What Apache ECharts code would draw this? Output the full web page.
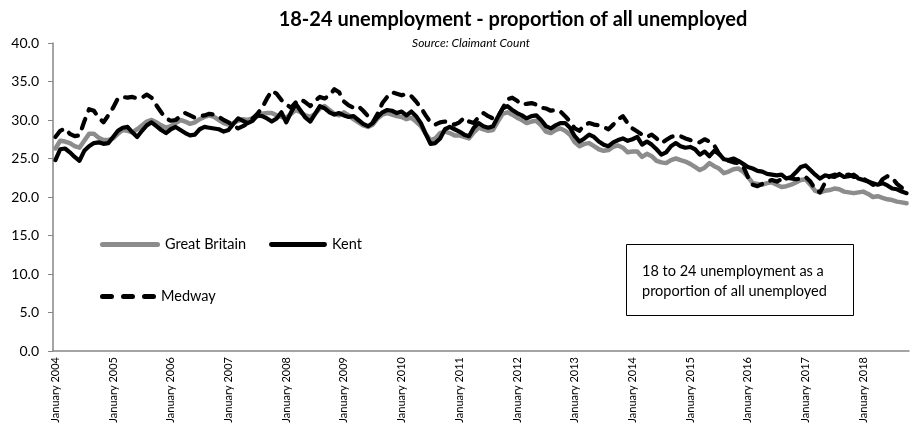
<!DOCTYPE html>
<html><head><meta charset="utf-8">
<script src="https://cdn.jsdelivr.net/npm/echarts@6/dist/echarts.min.js"></script>
<style>html,body{margin:0;padding:0;background:#fff}#c{width:910px;height:433px}</style>
</head><body><div id="c"></div>
<script>
// Categories: monthly, January 2004 – October 2018
const monthNames = ['January','February','March','April','May','June','July','August','September','October','November','December'];
const startYear = 2004;
const monthCount = 178;
const categories = [];
for (let i = 0; i < monthCount; i++) {
  categories.push(monthNames[i % 12] + ' ' + (startYear + Math.floor(i / 12)));
}
const yTicks = [0, 5, 10, 15, 20, 25, 30, 35, 40];

const greatBritain = [
  26.3, 27.3, 27.2, 27.0, 26.6, 26.4, 27.3, 28.2, 28.2, 27.7, 27.4, 27.4,
  27.6, 28.2, 28.7, 28.6, 28.4, 28.8, 29.3, 29.8, 30.0, 29.7, 29.3, 29.0,
  29.2, 29.6, 30.0, 29.8, 29.5, 29.7, 30.1, 30.4, 30.6, 30.4, 30.0, 29.6,
  29.4, 29.6, 29.9, 30.1, 30.0, 30.2, 30.5, 30.8, 30.9, 30.9, 30.6, 30.4,
  30.3, 30.8, 31.3, 31.0, 30.6, 30.4, 30.8, 31.5, 31.8, 31.3, 30.8, 30.6,
  31.0, 30.6, 30.1, 29.7, 29.3, 29.1, 29.4, 30.2, 30.7, 30.9, 30.7, 30.5,
  30.4, 30.1, 30.3, 29.8, 29.2, 28.2, 27.4, 27.6, 28.3, 28.5, 28.3, 28.0,
  28.0, 27.8, 27.6, 28.4, 29.0, 28.8, 28.6, 28.7, 29.8, 30.8, 31.0, 30.7,
  30.3, 30.0, 29.6, 29.8, 29.9, 29.3, 28.5, 28.3, 28.7, 28.9, 28.6, 28.1,
  27.1, 26.6, 26.9, 27.0, 26.6, 26.2, 26.0, 26.1, 26.5, 26.7, 26.4, 25.8,
  25.9, 25.9, 25.2, 25.6, 25.3, 24.7, 24.5, 24.4, 24.8, 25.0, 24.8, 24.6,
  24.3, 23.9, 23.5, 23.8, 24.4, 24.0, 23.7, 23.1, 23.3, 23.6, 23.7, 23.3,
  22.6, 21.8, 21.7, 21.6, 21.8, 21.9, 21.6, 21.3, 21.4, 21.6, 21.9, 22.2,
  22.3, 21.6, 20.8, 20.6, 20.8, 20.9, 21.1, 21.0, 20.7, 20.6, 20.5, 20.6,
  20.7, 20.4, 20.0, 20.1, 19.9, 19.7, 19.6, 19.4, 19.3, 19.2
];
const kent = [
  24.8, 26.2, 26.3, 25.8, 25.2, 24.7, 26.0, 26.6, 27.0, 27.1, 26.9, 27.0,
  27.8, 28.6, 29.0, 29.1, 28.4, 27.8, 28.6, 29.3, 29.7, 29.2, 28.7, 28.3,
  28.8, 29.1, 28.7, 28.3, 28.0, 28.1, 28.8, 29.1, 29.0, 28.9, 28.8, 28.5,
  28.7, 29.5, 30.2, 29.9, 29.6, 29.9, 30.6, 30.5, 30.2, 29.8, 30.2, 31.0,
  29.7, 31.0, 32.1, 31.2, 30.3, 29.8, 30.8, 31.8, 31.5, 31.0, 30.7, 30.9,
  30.6, 30.4, 30.5, 30.0, 29.5, 29.2, 29.6, 30.4, 31.0, 31.3, 31.2, 30.9,
  31.1, 30.6, 31.1, 30.5, 29.6, 28.2, 26.9, 27.0, 27.6, 28.8, 29.1, 28.8,
  28.5, 28.1, 27.9, 29.0, 29.6, 29.2, 29.0, 29.2, 30.4, 31.5, 31.8, 31.3,
  30.9, 30.6, 30.2, 30.5, 30.6, 30.0, 29.2, 28.9, 29.3, 29.6, 29.6, 29.0,
  27.9, 27.2, 27.6, 28.1, 27.8, 27.2, 26.8, 26.6, 27.1, 27.4, 27.6, 27.3,
  27.5, 27.8, 26.8, 27.2, 26.8, 26.2, 25.5, 25.8, 26.6, 27.0, 26.6, 26.4,
  26.5, 26.2, 25.5, 25.9, 25.3, 26.0, 25.6, 24.9, 24.8, 25.0, 24.7, 24.3,
  23.9, 23.7, 23.4, 23.3, 23.0, 22.9, 22.8, 22.9, 22.4, 22.6, 23.2, 23.9,
  24.1, 23.5, 22.9, 22.4, 22.8, 22.7, 22.6, 23.0, 22.6, 22.7, 22.9, 22.4,
  22.2, 22.0, 21.8, 21.6, 21.8, 21.5, 21.1, 21.0, 20.7, 20.5
];
const medway = [
  27.8, 28.6, 28.9, 28.2, 27.9, 28.0, 29.8, 31.4, 31.2, 30.3, 29.7, 30.6,
  31.6, 32.8, 33.0, 32.9, 33.0, 32.8, 32.9, 33.3, 32.9, 31.9, 31.0, 30.2,
  29.9, 30.0, 30.5, 30.9, 30.6, 30.3, 30.5, 30.6, 30.8, 30.7, 30.4, 30.0,
  29.7, 29.3, 28.9, 29.2, 29.6, 30.2, 30.8, 31.6, 32.8, 33.8, 33.4, 32.6,
  32.0, 31.6, 32.3, 32.7, 32.3, 31.8, 32.5, 33.0, 32.8, 33.2, 34.0, 33.6,
  32.4, 31.9, 31.6, 31.8, 31.2, 30.5, 29.7, 30.8, 32.2, 33.0, 33.6, 33.4,
  33.2, 33.4, 33.1, 32.4, 31.6, 30.6, 29.7, 29.4, 29.7, 29.8, 29.6, 29.4,
  29.7, 30.3, 29.8, 29.6, 30.4, 30.9, 30.5, 30.2, 30.4, 31.5, 32.7, 32.9,
  32.5, 32.0, 32.1, 32.2, 32.0, 31.6, 31.5, 31.2, 31.3, 31.1, 30.5, 29.8,
  28.9, 28.6, 29.4, 29.6, 29.4, 29.3, 29.1, 28.8, 29.4, 30.1, 30.5, 29.6,
  28.9, 28.5, 28.1, 27.8, 28.1, 27.6, 27.0, 27.4, 27.8, 28.0, 27.9, 27.6,
  27.4, 27.2, 27.1, 27.5, 27.2, 26.7, 25.6, 25.0, 24.7, 24.5, 24.4, 24.0,
  22.6, 21.6, 21.4, 21.7, 22.0, 22.2, 22.0, 22.3, 22.5, 22.4, 22.3, 22.4,
  22.6, 22.0, 21.0, 20.6, 21.8, 22.7, 22.9, 22.8, 22.8, 22.9, 22.6, 22.7,
  22.4, 22.0, 21.6, 21.4, 22.3, 22.7, 22.5, 21.7, 21.2, 21.0
];

const FONT = 'Lato, "Open Sans", sans-serif';
const chart = echarts.init(document.getElementById('c'), null, {renderer: 'canvas'});
const legendText = {fontFamily: FONT, fontSize: 14.5, color: '#000'};
const solidIcon = 'path://M2.5,0 H57.5 A2.5,2.5 0 0 1 57.5,5 H2.5 A2.5,2.5 0 0 1 2.5,0 Z';
const dashIcon = 'path://M2.5,0 H11.5 A2.5,2.5 0 0 1 11.5,5 H2.5 A2.5,2.5 0 0 1 2.5,0 Z ' +
  'M23.5,0 H32.5 A2.5,2.5 0 0 1 32.5,5 H23.5 A2.5,2.5 0 0 1 23.5,0 Z ' +
  'M44.5,0 H53.5 A2.5,2.5 0 0 1 53.5,5 H44.5 A2.5,2.5 0 0 1 44.5,0 Z';
chart.setOption({
  animation: false,
  backgroundColor: '#fff',
  title: [
    {text: '18-24 unemployment - proportion of all unemployed', left: 508, top: 5, textAlign: 'center',
     textStyle: {fontFamily: FONT, fontWeight: 'bold', fontSize: 20, color: '#000'}},
    {text: 'Source: Claimant Count', left: 466, top: 32, textAlign: 'center',
     textStyle: {fontFamily: FONT, fontStyle: 'italic', fontWeight: 'normal', fontSize: 12, color: '#000'}}
  ],
  legend: [
    {data: [{name: 'Great Britain', icon: solidIcon}], left: 95, top: 232, itemWidth: 60, itemHeight: 5, itemGap: 0,
     textStyle: legendText, selectedMode: false},
    {data: [{name: 'Kent', icon: solidIcon}], left: 264, top: 232, itemWidth: 58, itemHeight: 5, itemGap: 0,
     textStyle: legendText, selectedMode: false},
    {data: [{name: 'Medway', icon: dashIcon}], left: 95, top: 284, itemWidth: 56, itemHeight: 5, itemGap: 0,
     textStyle: legendText, selectedMode: false}
  ],
  grid: {left: 53, right: 1, top: 43, bottom: 82, containLabel: false},
  xAxis: {
    type: 'category', data: categories, boundaryGap: true,
    axisLine: {lineStyle: {color: '#868686', width: 1.5}},
    axisTick: {interval: 22, length: 5, lineStyle: {color: '#868686'}},
    axisLabel: {interval: 11, rotate: 90, fontFamily: FONT, fontSize: 11, color: '#000', margin: 6,
      formatter: v => v}
  },
  yAxis: {
    type: 'value', min: yTicks[0], max: yTicks[yTicks.length - 1], interval: 5,
    axisLine: {show: true, lineStyle: {color: '#868686', width: 1.5}},
    axisTick: {show: true, length: 5, lineStyle: {color: '#868686'}},
    splitLine: {show: false},
    axisLabel: {fontFamily: FONT, fontSize: 14, color: '#000', margin: 14, formatter: v => v.toFixed(1)}
  },
  series: [
    {name: 'Great Britain', type: 'line', data: greatBritain, symbol: 'none', showSymbol: false,
     lineStyle: {color: '#8c8c8c', width: 4.5, cap: 'round', join: 'round'}, itemStyle: {color: '#8c8c8c'}},
    {name: 'Kent', type: 'line', data: kent, symbol: 'none', showSymbol: false,
     lineStyle: {color: '#000', width: 4.2, cap: 'round', join: 'round'}, itemStyle: {color: '#000'}},
    {name: 'Medway', type: 'line', data: medway, symbol: 'none', showSymbol: false,
     lineStyle: {color: '#000', width: 4.2, type: [10, 9], cap: 'round', join: 'round'}, itemStyle: {color: '#000'}}
  ],
  graphic: [
    {type: 'rect', left: 626, top: 244, shape: {width: 227, height: 71},
     style: {fill: '#fff', stroke: '#000', lineWidth: 1}, z: 100},
    {type: 'text', left: 642, top: 261, z: 101,
     style: {text: '18 to 24 unemployment as a\nproportion of all unemployed', fontFamily: FONT, fontSize: 14.5, lineHeight: 20, fill: '#000'}}
  ]
});
</script>
</body></html>
